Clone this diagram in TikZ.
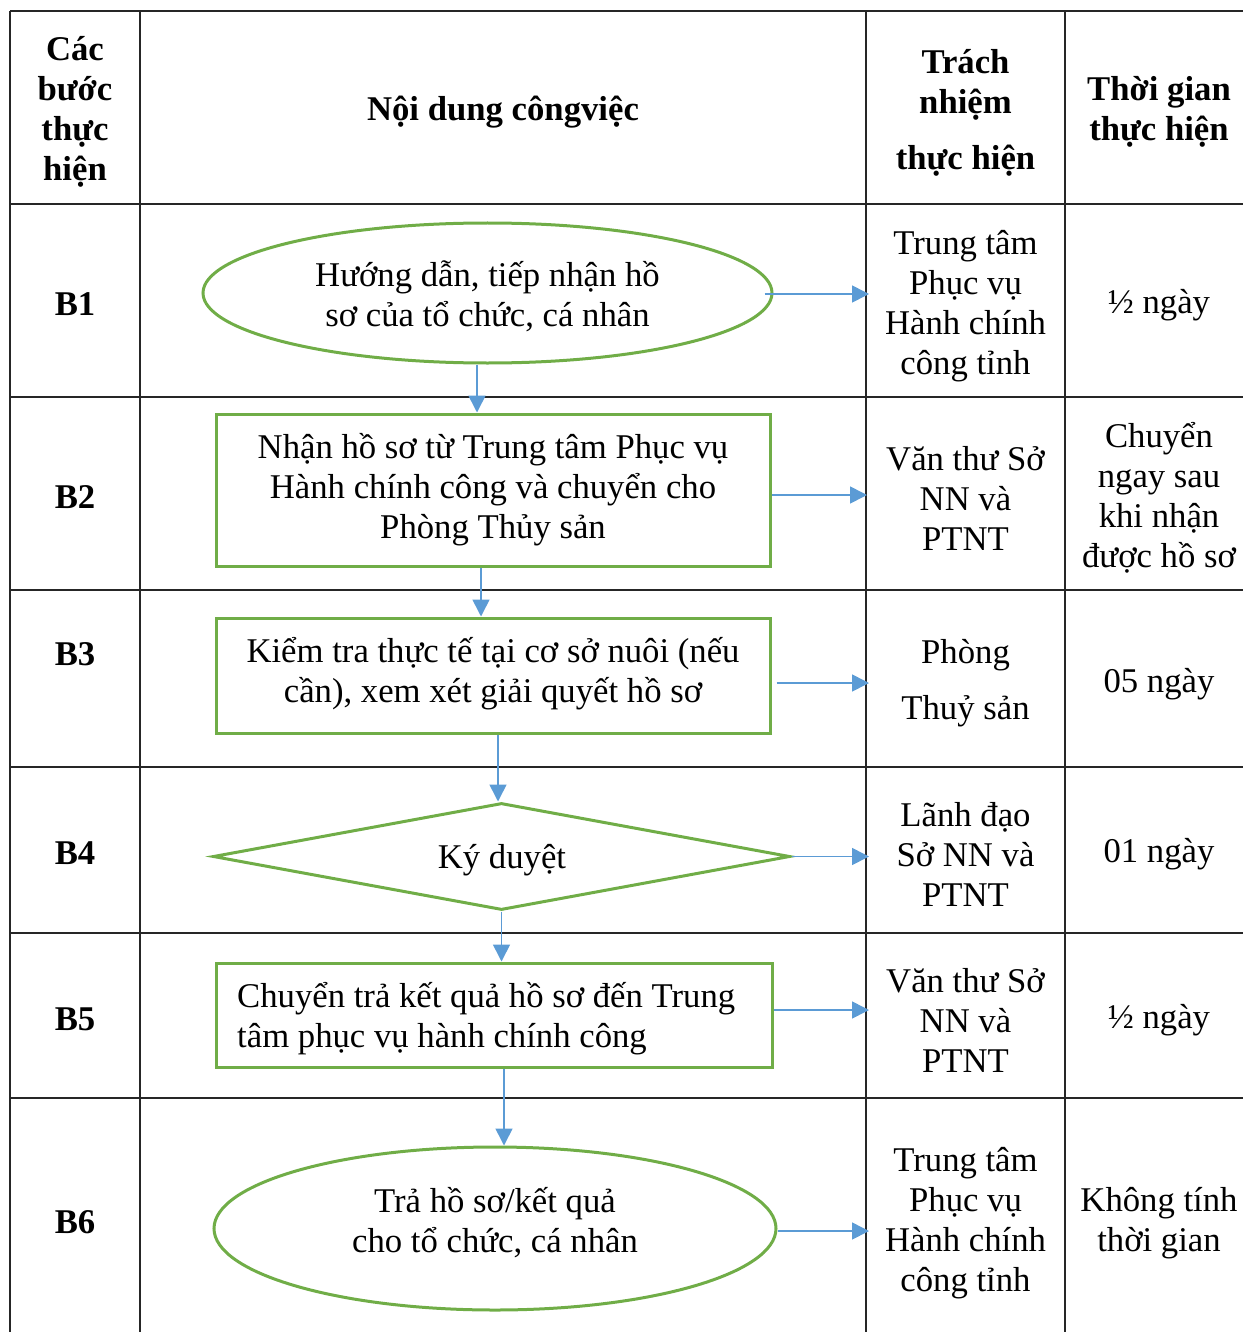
\documentclass[tikz,border=0pt]{standalone}
\usepackage{fontspec}
\setmainfont{Liberation Serif}
\usetikzlibrary{shapes.geometric,arrows.meta}
\definecolor{flowgreen}{HTML}{70AD47}
\definecolor{flowblue}{HTML}{5B9BD5}
\begin{document}
\begin{tikzpicture}[x=1pt,y=-1pt,
  every node/.style={font=\fontsize{34.7}{40}\selectfont, inner sep=0pt},
  grid/.style={line width=2pt, black!85},
  flowbox/.style={draw=flowgreen, line width=3pt, rectangle},
  flowell/.style={draw=flowgreen, line width=3pt, ellipse},
  flowdia/.style={draw=flowgreen, line width=3pt, diamond},
  arr/.style={draw=flowblue, line width=1.6pt, -{Triangle[length=17pt,width=17pt]}},
  hdr/.style={font=\fontsize{34.7}{40}\selectfont\bfseries, align=center, yshift=-3pt},
  cell/.style={align=center, yshift=-3pt},
]
\useasboundingbox (0,0) rectangle (1243,1332);

% table rules
\foreach \y in {11,204,397,590,767,933,1098}
  \draw[grid] (10,\y) -- (1243,\y);
\foreach \x in {10,140,866,1065}
  \draw[grid] (\x,11) -- (\x,1332);
\coordinate (c3) at (866,0);

% header row
\node[hdr] (h1) at (75,109) {Các\\bước\\thực\\hiện};
\node[hdr] (h2) at (503,109) {Nội dung côngviệc};
\node[hdr] (h3) at (965.5,110) {Trách\\nhiệm\\[16pt]thực hiện};
\node[hdr] (h4) at (1159,109) {Thời gian\\thực hiện};

% step labels
\node[hdr] (s1) at (75,301) {B1};
\node[hdr] (s2) at (75,494) {B2};
\node[hdr] (s3) at (75,651) {B3};
\node[hdr] (s4) at (75,850) {B4};
\node[hdr] (s5) at (75,1016) {B5};
\node[hdr] (s6) at (75,1219) {B6};

% flow shapes
\node[flowell, minimum width=569pt, minimum height=140pt] (e1) at (487.5,293) {};
\node[cell] (e1t) at (487.5,293.5) {Hướng dẫn, tiếp nhận hồ\\sơ của tổ chức, cá nhân};
\node[flowbox, minimum width=554pt, minimum height=152pt] (r2) at (493,490) {};
\node[cell] (r2t) at (493,487) {Nhận hồ sơ từ Trung tâm Phục vụ\\Hành chính công và chuyển cho\\Phòng Thủy sản};
\node[flowbox, minimum width=554pt, minimum height=115pt] (r3) at (493,675.5) {};
\node[cell] (r3t) at (493,670.5) {Kiểm tra thực tế tại cơ sở nuôi (nếu\\cần), xem xét giải quyết hồ sơ};
\node[flowdia, minimum width=577pt, minimum height=107pt] (d4) at (501.5,856.5) {};
\node[cell] (d4t) at (502,857) {Ký duyệt};
\node[flowbox, minimum width=556pt, minimum height=104pt] (r5) at (494,1015) {};
\node[align=left, anchor=west, yshift=-3pt] (r5t) at (237,1016) {Chuyển trả kết quả hồ sơ đến Trung\\tâm phục vụ hành chính công};
\node[flowell, minimum width=562pt, minimum height=163pt] (e6) at (495,1228.5) {};
\node[cell] (e6t) at (495,1220) {Trả hồ sơ/kết quả\\cho tổ chức, cá nhân};

% responsibility column
\node[cell] (p1) at (965.5,303) {Trung tâm\\Phục vụ\\Hành chính\\công tỉnh};
\node[cell] (p2) at (965.5,495) {Văn thư Sở\\NN và\\PTNT};
\node[cell] (p3) at (965.5,680) {Phòng\\[16pt]Thuỷ sản};
\node[cell] (p4) at (965.5,851) {Lãnh đạo\\Sở NN và\\PTNT};
\node[cell] (p5) at (965.5,1017) {Văn thư Sở\\NN và\\PTNT};
\node[cell] (p6) at (965.5,1220) {Trung tâm\\Phục vụ\\Hành chính\\công tỉnh};

% time column
\node[cell] (t1) at (1159,302) {½ ngày};
\node[cell] (t2) at (1159,495) {Chuyển\\ngay sau\\khi nhận\\được hồ sơ};
\node[cell] (t3) at (1159,681) {05 ngày};
\node[cell] (t4) at (1159,851) {01 ngày};
\node[cell] (t5) at (1159,1017) {½ ngày};
\node[cell] (t6) at (1159,1220) {Không tính\\thời gian};

% vertical flow arrows
\draw[arr] ([xshift=-10.5pt]e1.south) -- ([xshift=-10.5pt]e1.south |- r2.north);
\draw[arr] ([xshift=-12pt]r2.south) -- ([xshift=-12pt]r2.south |- r3.north);
\draw[arr] ([xshift=5pt]r3.south) -- ([xshift=5pt]r3.south |- d4.north);
\draw[arr] (d4.south) -- (d4.south |- r5.north);
\draw[arr] ([xshift=10pt]r5.south) -- ([xshift=10pt]r5.south |- e6.north);

% arrows to the responsibility column
\draw[arr, shorten >=-3pt] ([xshift=-9pt,yshift=-1pt]e1.east) -- ([yshift=-1pt]e1.east -| c3);
\draw[arr, shorten >=-1pt] ([yshift=-5pt]r2.east) -- ([yshift=-5pt]r2.east -| c3);
\draw[arr, shorten >=-3pt] ([xshift=5pt,yshift=-7.5pt]r3.east) -- ([yshift=-7.5pt]r3.east -| c3);
\draw[arr, shorten >=-3pt] (d4.east) -- (d4.east -| c3);
\draw[arr, shorten >=-3pt] ([yshift=5pt]r5.east) -- ([yshift=5pt]r5.east -| c3);
\draw[arr, shorten >=-3pt] ([yshift=-2.5pt]e6.east) -- ([yshift=-2.5pt]e6.east -| c3);
\end{tikzpicture}
\end{document}
